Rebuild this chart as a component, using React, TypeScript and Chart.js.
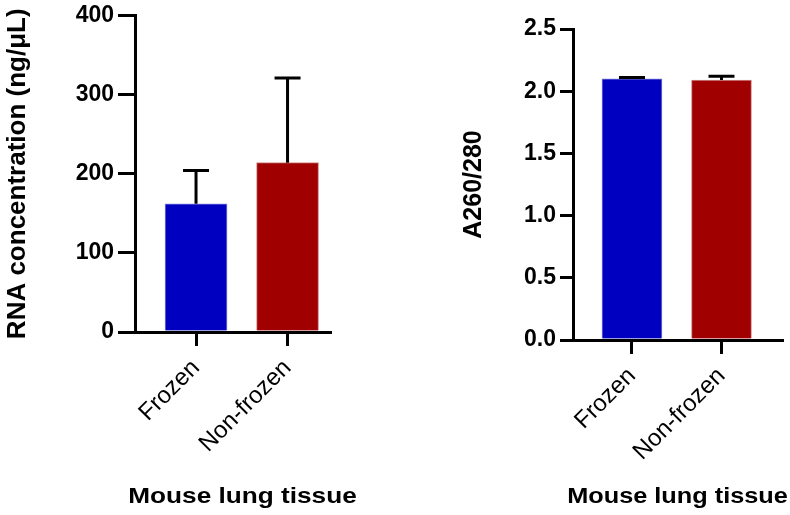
import React, { useEffect, useRef } from 'react';
import { Chart, registerables } from 'chart.js';

Chart.register(...registerables);

const categories = ['Frozen', 'Non-frozen'];
const rnaMeans = [162, 214];
const rnaErrors = [42, 107];
const ratioMeans = [2.1, 2.09];
const ratioErrors = [0.01, 0.03];
const barColors = ['#0000C0', '#A00000'];
const barEdgeColors = ['#7f7fd8', '#d08a8a'];
const rnaTicks = [0, 100, 200, 300, 400];
const ratioTicks = [0, 0.5, 1.0, 1.5, 2.0, 2.5];
const rnaTitle = 'RNA concentration (ng/μL)';
const ratioTitle = 'A260/280';
const xTitle = 'Mouse lung tissue';

const FONT = "'Liberation Sans', Arial, sans-serif";

const errorBarPlugin = {
  id: 'errorBars',
  afterDatasetsDraw(chart: any, _args: any, opts: any) {
    const { ctx, scales } = chart;
    const meta = chart.getDatasetMeta(0);
    const ds = chart.data.datasets[0];
    ctx.save();
    ctx.strokeStyle = '#000';
    ctx.lineWidth = opts.lineWidth;
    ctx.lineCap = 'butt';
    meta.data.forEach((bar: any, i: number) => {
      const v = ds.data[i].y;
      const e = opts.errors[i];
      const x = bar.x;
      const y0 = scales.y.getPixelForValue(v);
      const y1 = scales.y.getPixelForValue(v + e);
      ctx.beginPath();
      ctx.moveTo(x, y0);
      ctx.lineTo(x, y1);
      ctx.moveTo(x - opts.cap, y1);
      ctx.lineTo(x + opts.cap, y1);
      ctx.stroke();
    });
    ctx.restore();
  },
};

const xTitlePlugin = {
  id: 'xTitle',
  afterDraw(chart: any, _args: any, opts: any) {
    const { ctx, chartArea } = chart;
    ctx.save();
    ctx.font = opts.font;
    ctx.fillStyle = '#000';
    ctx.textAlign = 'center';
    ctx.textBaseline = 'middle';
    ctx.translate((chartArea.left + chartArea.right) / 2 + opts.dx, opts.y);
    ctx.scale(opts.stretch, 1);
    ctx.fillText(opts.text, 0, 0);
    ctx.restore();
  },
};

type PanelProps = {
  left: number;
  width: number;
  means: number[];
  errors: number[];
  yTicks: number[];
  yTitle: string;
  yTitleSize: number;
  decimals: number;
  padding: { left: number; top: number; right: number; bottom: number };
  yWidth: number;
  xHeight: number;
  xMin: number;
  xMax: number;
  barThickness: number;
  yTickLen: number;
  titleDx: number;
  titleStretch: number;
  yTitlePad: number;
};

function BarPanel(p: PanelProps) {
  const ref = useRef<HTMLCanvasElement | null>(null);
  useEffect(() => {
    if (!ref.current) return;
    const chart = new Chart(ref.current, {
      type: 'bar',
      data: {
        datasets: [
          {
            data: categories.map((c, i) => ({ x: i + 1, y: p.means[i] })) as any,
            backgroundColor: barColors,
            borderColor: barEdgeColors,
            borderWidth: 1,
            barThickness: p.barThickness,
          },
        ],
      },
      plugins: [errorBarPlugin, xTitlePlugin],
      options: {
        animation: false,
        responsive: false,
        devicePixelRatio: 1,
        layout: { padding: p.padding },
        plugins: {
          legend: { display: false },
          tooltip: { enabled: false },
          errorBars: { errors: p.errors, cap: 13, lineWidth: 3 },
          xTitle: { text: xTitle, font: `bold 22px ${FONT}`, dx: p.titleDx, y: 497, stretch: p.titleStretch },
        } as any,
        scales: {
          x: {
            type: 'linear',
            offset: false,
            min: p.xMin,
            max: p.xMax,
            afterBuildTicks: (s: any) => {
              s.ticks = categories.map((c, i) => ({ value: i + 1 }));
            },
            afterFit: (s: any) => {
              s.height = p.xHeight;
            },
            ticks: {
              autoSkip: false,
              minRotation: 45,
              maxRotation: 45,
              padding: 8,
              color: '#000',
              font: { family: FONT, size: 24, weight: 'normal' },
              callback: (v: any) => categories[Math.round(Number(v)) - 1] ?? '',
            },
            grid: {
              display: true,
              offset: false,
              drawOnChartArea: false,
              drawTicks: true,
              tickLength: 14,
              lineWidth: 3,
              color: '#000',
            },
            border: { display: true, color: '#000', width: 3 },
          },
          y: {
            min: p.yTicks[0],
            max: p.yTicks[p.yTicks.length - 1],
            afterBuildTicks: (s: any) => {
              s.ticks = p.yTicks.map((v) => ({ value: v }));
            },
            afterFit: (s: any) => {
              s.width = p.yWidth;
            },
            ticks: {
              padding: 4,
              color: '#000',
              font: { family: FONT, size: 23, weight: 'bold', lineHeight: 1 },
              callback: (v: any) => Number(v).toFixed(p.decimals),
            },
            grid: {
              display: true,
              drawOnChartArea: false,
              drawTicks: true,
              tickLength: p.yTickLen,
              lineWidth: 3,
              color: '#000',
            },
            border: { display: true, color: '#000', width: 3 },
            title: {
              display: true,
              text: p.yTitle,
              color: '#000',
              font: { family: FONT, size: p.yTitleSize, weight: 'bold' },
              padding: { top: p.yTitlePad, bottom: 0 },
            },
          },
        },
      } as any,
    });
    return () => chart.destroy();
  }, []);
  return (
    <canvas
      ref={ref}
      width={p.width}
      height={515}
      style={{ position: 'absolute', left: p.left, top: 0, width: p.width, height: 515 }}
    />
  );
}

export default function App() {
  return (
    <div style={{ position: 'absolute', left: 0, top: 0, width: 790, height: 515, background: '#fff', overflow: 'hidden' }}>
      <BarPanel
        left={0}
        width={395}
        means={rnaMeans}
        errors={rnaErrors}
        yTicks={rnaTicks}
        yTitle={rnaTitle}
        yTitleSize={26}
        decimals={0}
        padding={{ left: 0, top: 12, right: 65, bottom: 0 }}
        yWidth={135}
        xHeight={183}
        xMin={0.333}
        xMax={2.464}
        barThickness={62}
        yTickLen={17}
        titleDx={10}
        titleStretch={1.19}
        yTitlePad={2}
      />
      <BarPanel
        left={455}
        width={335}
        means={ratioMeans}
        errors={ratioErrors}
        yTicks={ratioTicks}
        yTitle={ratioTitle}
        yTitleSize={25}
        decimals={1}
        padding={{ left: 0, top: 29, right: 8, bottom: 0 }}
        yWidth={118}
        xHeight={175}
        xMin={0.341}
        xMax={2.676}
        barThickness={60}
        yTickLen={13}
        titleDx={0}
        titleStretch={1.15}
        yTitlePad={4}
      />
    </div>
  );
}
